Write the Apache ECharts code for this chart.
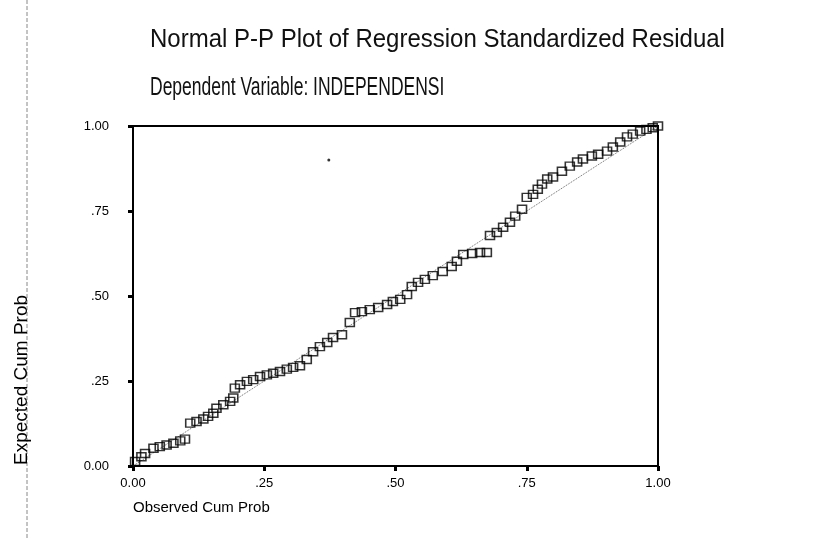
<!DOCTYPE html>
<html>
<head>
<meta charset="utf-8">
<script src="https://cdn.jsdelivr.net/npm/echarts@6/dist/echarts.min.js"></script>
<style>
html,body{margin:0;padding:0;background:#fff;}
#chart{width:824px;height:539px;}
</style>
</head>
<body>
<div id="chart"></div>
<script>
var titleText = "Normal P-P Plot of Regression Standardized Residual";
var subtitleText = "Dependent Variable: INDEPENDENSI";
var xAxisTitle = "Observed Cum Prob";
var yAxisTitle = "Expected Cum Prob";
var tickValues = [0, 0.25, 0.5, 0.75, 1];
var tickLabels = ["0.00", ".25", ".50", ".75", "1.00"];

var observedCumProb = [
  0.004,0.016,0.023,0.039,0.051,0.064,0.077,0.090,0.099,0.109,
  0.121,0.134,0.143,0.153,0.159,0.172,0.185,0.191,0.194,0.204,
  0.217,0.229,0.242,0.255,0.267,0.280,0.293,0.305,0.318,0.331,
  0.343,0.356,0.370,0.381,0.398,0.413,0.423,0.436,0.451,0.467,
  0.484,0.495,0.509,0.522,0.531,0.543,0.556,0.571,0.590,0.607,
  0.617,0.629,0.646,0.661,0.674,0.680,0.693,0.705,0.718,0.728,
  0.741,0.750,0.762,0.771,0.779,0.789,0.800,0.817,0.832,0.846,
  0.857,0.874,0.886,0.903,0.914,0.928,0.941,0.952,0.966,0.978,
  0.990,1.000
];
var expectedCumProb = [
  0.013,0.027,0.037,0.052,0.057,0.062,0.067,0.074,0.079,0.126,
  0.131,0.138,0.146,0.155,0.170,0.180,0.190,0.200,0.229,0.239,
  0.249,0.254,0.263,0.268,0.273,0.278,0.285,0.290,0.295,0.313,
  0.336,0.351,0.363,0.378,0.386,0.422,0.451,0.454,0.460,0.466,
  0.475,0.484,0.490,0.504,0.528,0.540,0.549,0.560,0.572,0.587,
  0.602,0.622,0.625,0.628,0.628,0.678,0.687,0.702,0.717,0.735,
  0.755,0.790,0.799,0.814,0.829,0.844,0.850,0.867,0.882,0.894,
  0.903,0.912,0.917,0.926,0.938,0.953,0.968,0.976,0.985,0.990,
  0.995,1.000
];
var diagonalX = [0, 1];
var diagonalY = [0, 1];
var speckX = [0.373];
var speckY = [0.90];

var points = observedCumProb.map(function(x, i){ return [x, expectedCumProb[i]]; });
var diag = diagonalX.map(function(x, i){ return [x, diagonalY[i]]; });
var speck = speckX.map(function(x, i){ return [x, speckY[i]]; });

function fmt(v){
  for (var i = 0; i < tickValues.length; i++) {
    if (Math.abs(tickValues[i] - v) < 1e-6) return tickLabels[i];
  }
  return '';
}

var fam = "'Liberation Sans', Arial, sans-serif";
var chart = echarts.init(document.getElementById('chart'), null, {renderer: 'canvas'});
var axisCommon = {
  type: 'value', min: 0, max: 1, interval: 0.25,
  axisLine: {show: true, lineStyle: {color: '#000', width: 2}},
  axisTick: {show: true, inside: false, length: 5, lineStyle: {color: '#000', width: 3}},
  splitLine: {show: false},
  axisLabel: {formatter: fmt, color: '#000', fontFamily: fam, fontSize: 13}
};
chart.setOption({
  animation: false,
  backgroundColor: '#fff',
  grid: {left: 133, right: 166, top: 126, bottom: 73, show: true, borderColor: '#000', borderWidth: 2, backgroundColor: 'transparent'},
  xAxis: Object.assign({}, axisCommon, {axisLabel: Object.assign({}, axisCommon.axisLabel, {margin: 11})}),
  yAxis: Object.assign({}, axisCommon, {axisLabel: Object.assign({}, axisCommon.axisLabel, {margin: 24})}),
  series: [
    {type: 'line', data: diag, symbol: 'none', silent: true,
     lineStyle: {color: '#666', width: 1, type: 'dotted'}, z: 1},
    {type: 'scatter', data: points, symbol: 'rect', symbolSize: [9, 8],
     itemStyle: {color: 'rgba(255,255,255,0)', borderColor: '#000', borderWidth: 1.5}, z: 2},
    {type: 'scatter', data: speck, symbol: 'circle', symbolSize: 3,
     itemStyle: {color: '#000'}, z: 2}
  ],
  graphic: [
    {type: 'line', shape: {x1: 27, y1: 0, x2: 27, y2: 539}, style: {stroke: '#888', lineWidth: 1, lineDash: [4, 2]}},
    {type: 'text', x: 150, y: 40, scaleX: 0.96, style: {text: titleText, font: "25px " + fam, fill: '#111', textVerticalAlign: 'middle'}},
    {type: 'text', x: 150, y: 88, scaleX: 0.7, style: {text: subtitleText, font: "25px " + fam, fill: '#111', textVerticalAlign: 'middle'}},
    {type: 'text', left: 133, top: 500, style: {text: xAxisTitle, font: "15px " + fam, fill: '#000'}},
    {type: 'text', x: 12, y: 465, rotation: Math.PI / 2, style: {text: yAxisTitle, font: "19px " + fam, fill: '#000', textAlign: 'left', textVerticalAlign: 'top'}}
  ]
});
</script>
</body>
</html>
